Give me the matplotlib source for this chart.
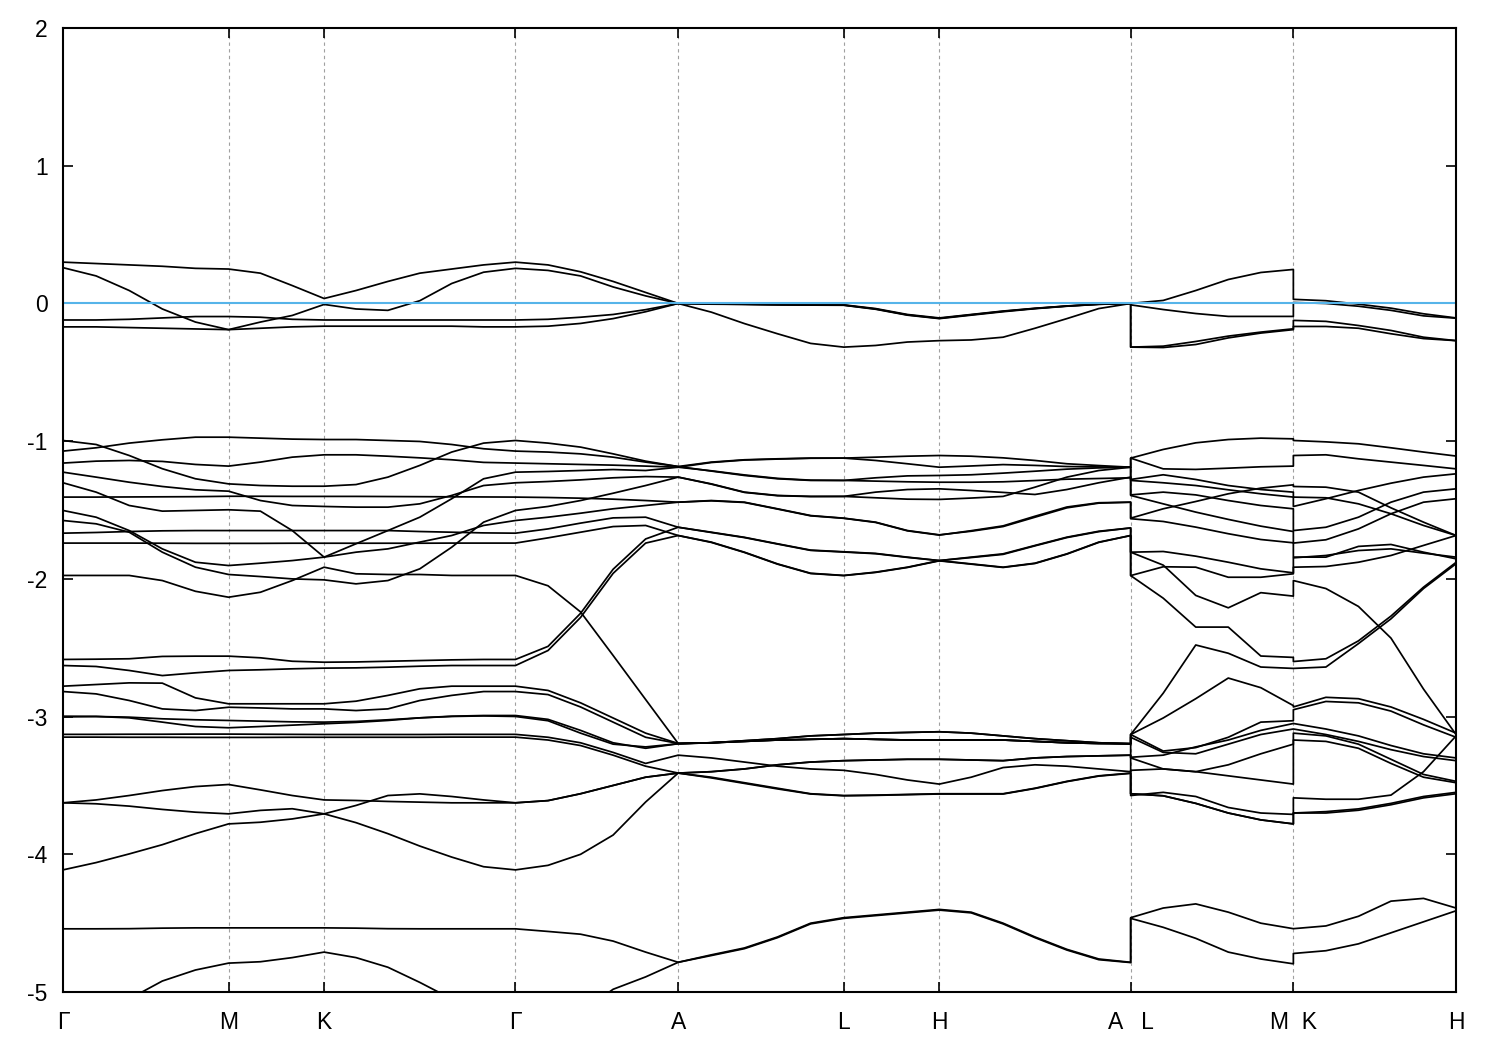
import numpy as np
import matplotlib
matplotlib.use("Agg")
import matplotlib.pyplot as plt

plt.rcParams['font.family'] = ['Liberation Sans', 'DejaVu Sans']
plt.rcParams['axes.unicode_minus'] = False

# k-path: segment lengths (1/a units) and number of k-steps per segment
seg_names = ["Γ-M", "M-K", "K-Γ", "Γ-A", "A-L", "L-H", "H-A", "L-M", "K-H"]
seg_len = [0.577, 0.333, 0.667, 0.567, 0.577, 0.333, 0.667, 0.567, 0.567]
seg_steps = [5, 3, 6, 5, 5, 3, 6, 5, 5]
seg_jump = [False, False, False, False, False, False, False, True, True]
tick_labels = ["Γ", "M", "K", "Γ", "A", "L", "H", "A   L", "M  K", "H"]

# bands near the Fermi level (eV), one value per k-point
fermi_bands = [
    [0.30, 0.29, 0.28, 0.27, 0.255, 0.25, 0.22, 0.13, 0.036,
     0.094, 0.16, 0.22, 0.25, 0.28, 0.30, 0.28, 0.23, 0.16, 0.08, 0.0,
     -0.003, -0.005, -0.008, -0.01, -0.01, -0.037, -0.08, -0.105,
     -0.08, -0.055, -0.035, -0.018, -0.005, 0.0,
     0.0, 0.022, 0.094, 0.174, 0.225, 0.247,
     0.03, 0.02, -0.005, -0.034, -0.075, -0.105],
    [0.26, 0.20, 0.094, -0.04, -0.135, -0.19, -0.135, -0.087, -0.007,
     -0.04, -0.05, 0.02, 0.145, 0.227, 0.255, 0.24, 0.20, 0.12, 0.055, 0.0,
     -0.004, -0.006, -0.009, -0.011, -0.012, -0.04, -0.083, -0.108,
     -0.082, -0.057, -0.036, -0.019, -0.006, 0.0,
     -0.01, -0.044, -0.073, -0.094, -0.094, -0.094,
     0.007, 0.0, -0.02, -0.05, -0.09, -0.107],
    [-0.12, -0.12, -0.115, -0.105, -0.095, -0.095, -0.10, -0.115, -0.12,
     -0.12, -0.12, -0.12, -0.12, -0.12, -0.12, -0.115, -0.10, -0.08, -0.045, 0.0,
     -0.005, -0.007, -0.01, -0.012, -0.013, -0.042, -0.085, -0.11,
     -0.085, -0.06, -0.038, -0.02, -0.006, 0.0,
     -0.317, -0.31, -0.276, -0.237, -0.208, -0.184,
     -0.123, -0.13, -0.16, -0.196, -0.245, -0.27],
    [-0.17, -0.17, -0.175, -0.18, -0.185, -0.19, -0.18, -0.17, -0.165,
     -0.165, -0.165, -0.165, -0.165, -0.17, -0.17, -0.165, -0.145, -0.11, -0.06, 0.0,
     -0.063, -0.146, -0.22, -0.29, -0.317, -0.305, -0.28, -0.27,
     -0.265, -0.245, -0.18, -0.11, -0.037, 0.0,
     -0.317, -0.32, -0.298, -0.25, -0.215, -0.19,
     -0.167, -0.167, -0.18, -0.22, -0.255, -0.27],
]

# d-like bands between -1 and -2.7 eV
d_bands = [
    [-0.995, -1.024, -1.104, -1.200, -1.273, -1.310, -1.322, -1.327, -1.327,
     -1.315, -1.261, -1.176, -1.079, -1.014, -0.995,
     -1.014, -1.043, -1.092, -1.145, -1.184,
     -1.152, -1.135, -1.128, -1.123, -1.123, -1.116, -1.109, -1.104,
     -1.109, -1.121, -1.140, -1.164, -1.177, -1.189,
     -1.123, -1.060, -1.012, -0.988, -0.978, -0.983,
     -0.995, -1.005, -1.019, -1.048, -1.079, -1.108],
    [-1.072, -1.048, -1.014, -0.990, -0.971, -0.971, -0.978, -0.985, -0.988,
     -0.988, -0.995, -1.002, -1.024, -1.055, -1.072,
     -1.079, -1.092, -1.116, -1.152, -1.184,
     -1.217, -1.249, -1.273, -1.285, -1.285, -1.266, -1.252, -1.249,
     -1.244, -1.232, -1.218, -1.203, -1.194, -1.189,
     -1.278, -1.244, -1.278, -1.322, -1.351, -1.370,
     -1.406, -1.411, -1.455, -1.527, -1.612, -1.685],
    [-1.159, -1.145, -1.140, -1.147, -1.169, -1.181, -1.152, -1.116, -1.099,
     -1.099, -1.109, -1.121, -1.135, -1.154, -1.159,
     -1.164, -1.169, -1.174, -1.181, -1.189,
     -1.215, -1.245, -1.270, -1.283, -1.285, -1.290, -1.295, -1.298,
     -1.298, -1.295, -1.286, -1.276, -1.271, -1.266,
     -1.285, -1.302, -1.322, -1.353, -1.382, -1.406,
     -1.474, -1.418, -1.358, -1.305, -1.261, -1.237],
    [-1.225, -1.261, -1.298, -1.329, -1.353, -1.363, -1.431, -1.467, -1.474,
     -1.479, -1.479, -1.455, -1.394, -1.322, -1.302,
     -1.293, -1.281, -1.266, -1.257, -1.261,
     -1.310, -1.370, -1.394, -1.401, -1.401, -1.370, -1.351, -1.346,
     -1.358, -1.372, -1.387, -1.351, -1.302, -1.261,
     -1.390, -1.370, -1.390, -1.431, -1.467, -1.491,
     -1.649, -1.625, -1.552, -1.443, -1.370, -1.346],
    [-1.302, -1.370, -1.467, -1.508, -1.503, -1.498, -1.508, -1.649, -1.842,
     -1.745, -1.649, -1.552, -1.418, -1.273, -1.225,
     -1.220, -1.213, -1.206, -1.213, -1.189,
     -1.155, -1.137, -1.130, -1.124, -1.123, -1.140, -1.164, -1.189,
     -1.180, -1.170, -1.176, -1.184, -1.187, -1.189,
     -1.123, -1.201, -1.205, -1.196, -1.186, -1.181,
     -1.104, -1.099, -1.128, -1.152, -1.176, -1.201],
    [-1.406, -1.406, -1.405, -1.404, -1.403, -1.400, -1.400, -1.401, -1.401,
     -1.401, -1.402, -1.403, -1.404, -1.405, -1.406,
     -1.409, -1.414, -1.421, -1.431, -1.443,
     -1.431, -1.443, -1.491, -1.540, -1.559, -1.588, -1.649, -1.680,
     -1.654, -1.620, -1.552, -1.484, -1.450, -1.443,
     -1.559, -1.491, -1.438, -1.382, -1.341, -1.317,
     -1.329, -1.334, -1.370, -1.484, -1.588, -1.685],
    [-1.503, -1.552, -1.649, -1.782, -1.879, -1.903, -1.886, -1.867, -1.842,
     -1.806, -1.782, -1.733, -1.685, -1.612, -1.576,
     -1.552, -1.523, -1.491, -1.467, -1.443,
     -1.433, -1.445, -1.493, -1.542, -1.560, -1.590, -1.651, -1.682,
     -1.650, -1.615, -1.545, -1.478, -1.447, -1.443,
     -1.563, -1.583, -1.624, -1.672, -1.714, -1.738,
     -1.842, -1.842, -1.764, -1.750, -1.806, -1.854],
    [-1.576, -1.600, -1.661, -1.806, -1.915, -1.968, -1.983, -2.000, -2.007,
     -2.036, -2.012, -1.927, -1.770, -1.588, -1.503,
     -1.474, -1.431, -1.378, -1.322, -1.261,
     -1.312, -1.372, -1.396, -1.402, -1.401, -1.411, -1.421, -1.423,
     -1.413, -1.401, -1.334, -1.261, -1.213, -1.189,
     -1.394, -1.455, -1.515, -1.568, -1.617, -1.656,
     -1.740, -1.716, -1.637, -1.527, -1.443, -1.418],
    [-1.668, -1.663, -1.656, -1.651, -1.649, -1.649, -1.649, -1.649, -1.649,
     -1.649, -1.649, -1.656, -1.661, -1.666, -1.668,
     -1.637, -1.595, -1.557, -1.552, -1.625,
     -1.661, -1.698, -1.745, -1.791, -1.803, -1.815, -1.842, -1.867,
     -1.842, -1.818, -1.757, -1.697, -1.654, -1.630,
     -1.806, -1.801, -1.835, -1.879, -1.927, -1.956,
     -1.847, -1.830, -1.794, -1.782, -1.813, -1.842],
    [-1.740, -1.740, -1.740, -1.741, -1.742, -1.742, -1.742, -1.741, -1.741,
     -1.741, -1.741, -1.741, -1.740, -1.740, -1.740,
     -1.702, -1.661, -1.620, -1.612, -1.685,
     -1.733, -1.806, -1.891, -1.959, -1.975, -1.951, -1.915, -1.867,
     -1.891, -1.915, -1.886, -1.818, -1.733, -1.685,
     -1.976, -1.912, -1.915, -1.988, -1.988, -1.963,
     -1.915, -1.910, -1.879, -1.830, -1.757, -1.685],
    [-2.585, -2.583, -2.580, -2.563, -2.561, -2.561, -2.573, -2.598, -2.605,
     -2.603, -2.598, -2.593, -2.588, -2.585, -2.585,
     -2.49, -2.25, -1.93, -1.71, -1.625,
     -1.663, -1.700, -1.747, -1.793, -1.805, -1.817, -1.844, -1.867,
     -1.845, -1.822, -1.760, -1.700, -1.657, -1.630,
     -1.806, -1.90, -2.12, -2.21, -2.10, -2.125,
     -2.012, -2.07, -2.20, -2.43, -2.80, -3.13],
    [-2.629, -2.636, -2.665, -2.702, -2.682, -2.665, -2.660, -2.653, -2.648,
     -2.646, -2.641, -2.634, -2.629, -2.629, -2.629,
     -2.52, -2.28, -1.96, -1.74, -1.685,
     -1.735, -1.808, -1.893, -1.961, -1.976, -1.953, -1.917, -1.869,
     -1.893, -1.917, -1.888, -1.820, -1.735, -1.685,
     -1.976, -2.14, -2.35, -2.35, -2.56, -2.57,
     -2.60, -2.58, -2.45, -2.27, -2.06, -1.88],
]

# bands between -2 and -4.2 eV
lower_bands = [
    [-1.975, -1.975, -1.975, -2.012, -2.090, -2.133, -2.097, -2.012, -1.915,
     -1.963, -1.968, -1.968, -1.975, -1.975, -1.975,
     -2.05, -2.24, -2.556, -2.876, -3.195,
     -3.19, -3.18, -3.17, -3.165, -3.16, -3.165, -3.17, -3.17,
     -3.17, -3.17, -3.18, -3.19, -3.195, -3.197,
     -3.56, -3.575, -3.63, -3.70, -3.75, -3.779,
     -3.70, -3.70, -3.68, -3.64, -3.59, -3.56],
    [-2.779, -2.767, -2.755, -2.757, -2.864, -2.907, -2.907, -2.907, -2.907,
     -2.888, -2.846, -2.798, -2.779, -2.779, -2.779,
     -2.81, -2.90, -3.01, -3.12, -3.195,
     -3.19, -3.175, -3.16, -3.14, -3.13, -3.12, -3.115, -3.11,
     -3.12, -3.14, -3.16, -3.175, -3.19, -3.197,
     -3.13, -2.83, -2.48, -2.54, -2.64, -2.65,
     -2.65, -2.64, -2.47, -2.29, -2.07, -1.89],
    [-2.818, -2.835, -2.883, -2.944, -2.956, -2.932, -2.937, -2.944, -2.944,
     -2.956, -2.944, -2.883, -2.846, -2.818, -2.818,
     -2.84, -2.93, -3.04, -3.15, -3.195,
     -3.19, -3.18, -3.17, -3.165, -3.16, -3.165, -3.17, -3.17,
     -3.17, -3.17, -3.18, -3.19, -3.195, -3.197,
     -3.13, -3.25, -3.225, -3.15, -3.04, -3.03,
     -2.95, -2.89, -2.90, -2.96, -3.06, -3.15],
    [-2.997, -2.999, -3.009, -3.040, -3.072, -3.081, -3.072, -3.062, -3.052,
     -3.042, -3.028, -3.009, -2.997, -2.992, -2.992,
     -3.02, -3.10, -3.19, -3.23, -3.197,
     -3.19, -3.175, -3.16, -3.14, -3.13, -3.12, -3.115, -3.11,
     -3.12, -3.14, -3.16, -3.175, -3.19, -3.197,
     -3.13, -3.01, -2.87, -2.72, -2.79, -2.92,
     -2.93, -2.86, -2.87, -2.93, -3.02, -3.12],
    [-3.002, -2.999, -3.004, -3.016, -3.023, -3.028, -3.033, -3.038, -3.040,
     -3.035, -3.023, -3.009, -2.999, -2.995, -2.999,
     -3.03, -3.12, -3.20, -3.22, -3.197,
     -3.19, -3.18, -3.17, -3.165, -3.16, -3.165, -3.17, -3.17,
     -3.17, -3.17, -3.18, -3.19, -3.195, -3.197,
     -3.15, -3.26, -3.27, -3.20, -3.13, -3.09,
     -3.09, -3.13, -3.18, -3.24, -3.29, -3.32],
    [-3.129, -3.129, -3.128, -3.128, -3.127, -3.127, -3.128, -3.129, -3.130,
     -3.130, -3.130, -3.130, -3.129, -3.129, -3.129,
     -3.15, -3.19, -3.26, -3.34, -3.28,
     -3.30, -3.33, -3.36, -3.38, -3.39, -3.42, -3.46, -3.49,
     -3.44, -3.37, -3.35, -3.36, -3.38, -3.40,
     -3.39, -3.38, -3.40, -3.43, -3.46, -3.49,
     -3.17, -3.18, -3.23, -3.34, -3.44, -3.48],
    [-3.149, -3.149, -3.150, -3.150, -3.151, -3.151, -3.151, -3.150, -3.150,
     -3.150, -3.150, -3.150, -3.149, -3.149, -3.149,
     -3.17, -3.21, -3.28, -3.36, -3.41,
     -3.40, -3.38, -3.35, -3.33, -3.32, -3.315, -3.31, -3.31,
     -3.315, -3.32, -3.30, -3.29, -3.285, -3.28,
     -3.295, -3.28, -3.22, -3.17, -3.10, -3.05,
     -3.05, -3.09, -3.14, -3.21, -3.27, -3.30],
    [-3.626, -3.605, -3.573, -3.537, -3.508, -3.493, -3.532, -3.573, -3.605,
     -3.609, -3.616, -3.621, -3.626, -3.626, -3.626,
     -3.61, -3.56, -3.50, -3.44, -3.41,
     -3.40, -3.38, -3.35, -3.33, -3.32, -3.315, -3.31, -3.31,
     -3.315, -3.32, -3.30, -3.29, -3.285, -3.28,
     -3.30, -3.38, -3.40, -3.35, -3.27, -3.20,
     -3.12, -3.14, -3.20, -3.31, -3.42, -3.47],
    [-3.626, -3.633, -3.650, -3.674, -3.694, -3.706, -3.681, -3.669, -3.706,
     -3.645, -3.573, -3.561, -3.580, -3.605, -3.626,
     -3.61, -3.56, -3.50, -3.44, -3.41,
     -3.44, -3.48, -3.52, -3.56, -3.573, -3.57, -3.565, -3.56,
     -3.56, -3.56, -3.52, -3.47, -3.43, -3.41,
     -3.573, -3.55, -3.58, -3.66, -3.70, -3.71,
     -3.59, -3.60, -3.60, -3.57, -3.40, -3.14],
    [-4.113, -4.06, -3.997, -3.93, -3.85, -3.779, -3.767, -3.743, -3.706,
     -3.77, -3.85, -3.94, -4.02, -4.09, -4.113,
     -4.08, -4.00, -3.86, -3.62, -3.41,
     -3.445, -3.485, -3.525, -3.562, -3.575, -3.572, -3.567, -3.562,
     -3.562, -3.562, -3.522, -3.472, -3.432, -3.412,
     -3.56, -3.575, -3.63, -3.70, -3.75, -3.779,
     -3.70, -3.69, -3.67, -3.63, -3.58, -3.55],
]

# deep bands around -4.5 eV and below
deep_bands = [
    [-4.541, -4.541, -4.540, -4.536, -4.534, -4.534, -4.534, -4.534, -4.534,
     -4.536, -4.540, -4.541, -4.541, -4.541, -4.541,
     -4.56, -4.58, -4.63, -4.71, -4.784,
     -4.73, -4.68, -4.60, -4.50, -4.46, -4.44, -4.42, -4.40,
     -4.42, -4.50, -4.60, -4.69, -4.76, -4.784,
     -4.46, -4.39, -4.36, -4.42, -4.50, -4.54,
     -4.54, -4.52, -4.45, -4.34, -4.32, -4.39],
    [-5.45, -5.30, -5.05, -4.92, -4.84, -4.79, -4.78, -4.75, -4.71,
     -4.75, -4.82, -4.93, -5.05, -5.25, -5.40,
     -5.30, -5.15, -4.98, -4.89, -4.784,
     -4.735, -4.685, -4.605, -4.505, -4.465, -4.445, -4.425, -4.405,
     -4.425, -4.505, -4.605, -4.695, -4.765, -4.786,
     -4.465, -4.53, -4.61, -4.71, -4.76, -4.795,
     -4.72, -4.70, -4.65, -4.57, -4.49, -4.41],
]

# build the k-axis (repeated point where the path jumps)
kx = [0.0]
nodes = [0.0]
pos = 0.0
for length, n, jump in zip(seg_len, seg_steps, seg_jump):
    if jump:
        kx.append(pos)
    kx.extend(pos + length * np.arange(1, n + 1) / n)
    pos += length
    nodes.append(pos)
kx = np.array(kx)

fig = plt.figure(figsize=(15, 10.5), dpi=100)
ax = fig.add_axes([0.042, 0.0552, 0.9287, 0.9181])

for grp in (fermi_bands, d_bands, lower_bands, deep_bands):
    for band in grp:
        ax.plot(kx, band, color="black", lw=1.25, solid_joinstyle="round")

for xv in nodes[1:-1]:
    ax.axvline(xv, color="#a0a0a0", lw=0.8, ls=(0, (3, 3)), zorder=0)
ax.axhline(0.0, color="#56B4E9", lw=1.5)

ax.set_xlim(0, nodes[-1])
ax.set_ylim(-5, 2)
ax.set_xticks(nodes)
ax.set_xticklabels(tick_labels)
ax.set_yticks(range(-5, 3))
ax.tick_params(direction="in", length=7, width=1.2, labelsize=16.5,
               top=True, right=True)
ax.tick_params(axis="x", pad=14)
ax.tick_params(axis="y", pad=11)
for sp in ax.spines.values():
    sp.set_linewidth(1.5)

fig.savefig("out.png", dpi=100)
